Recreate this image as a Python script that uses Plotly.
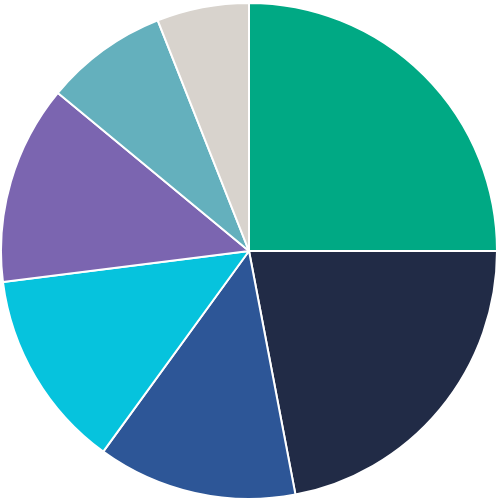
import plotly.graph_objects as go

# slice data, clockwise from 12 o'clock
labels = ['A', 'B', 'C', 'D', 'E', 'F', 'G']
values = [25, 22, 13, 13, 13, 8, 6]
colors = ['#00A984', '#212B46', '#2D5697', '#06C3DD', '#7B65B0', '#64B0BD', '#D8D3CD']

fig = go.Figure(go.Pie(
    labels=labels,
    values=values,
    sort=False,
    direction='clockwise',
    rotation=0,
    textinfo='none',
    hoverinfo='label+percent',
    marker=dict(colors=colors, line=dict(color='white', width=2)),
    domain=dict(x=[0.002, 0.994], y=[0.002, 0.994]),
))

fig.update_layout(
    width=500,
    height=500,
    margin=dict(l=0, r=0, t=0, b=0),
    showlegend=False,
    paper_bgcolor='white',
    plot_bgcolor='white',
)

# drop the browser's default body margin so the chart sits at 0,0
fig.write_html("out.html",
               config={'displayModeBar': False},
               post_script="document.body.style.margin='0';")
